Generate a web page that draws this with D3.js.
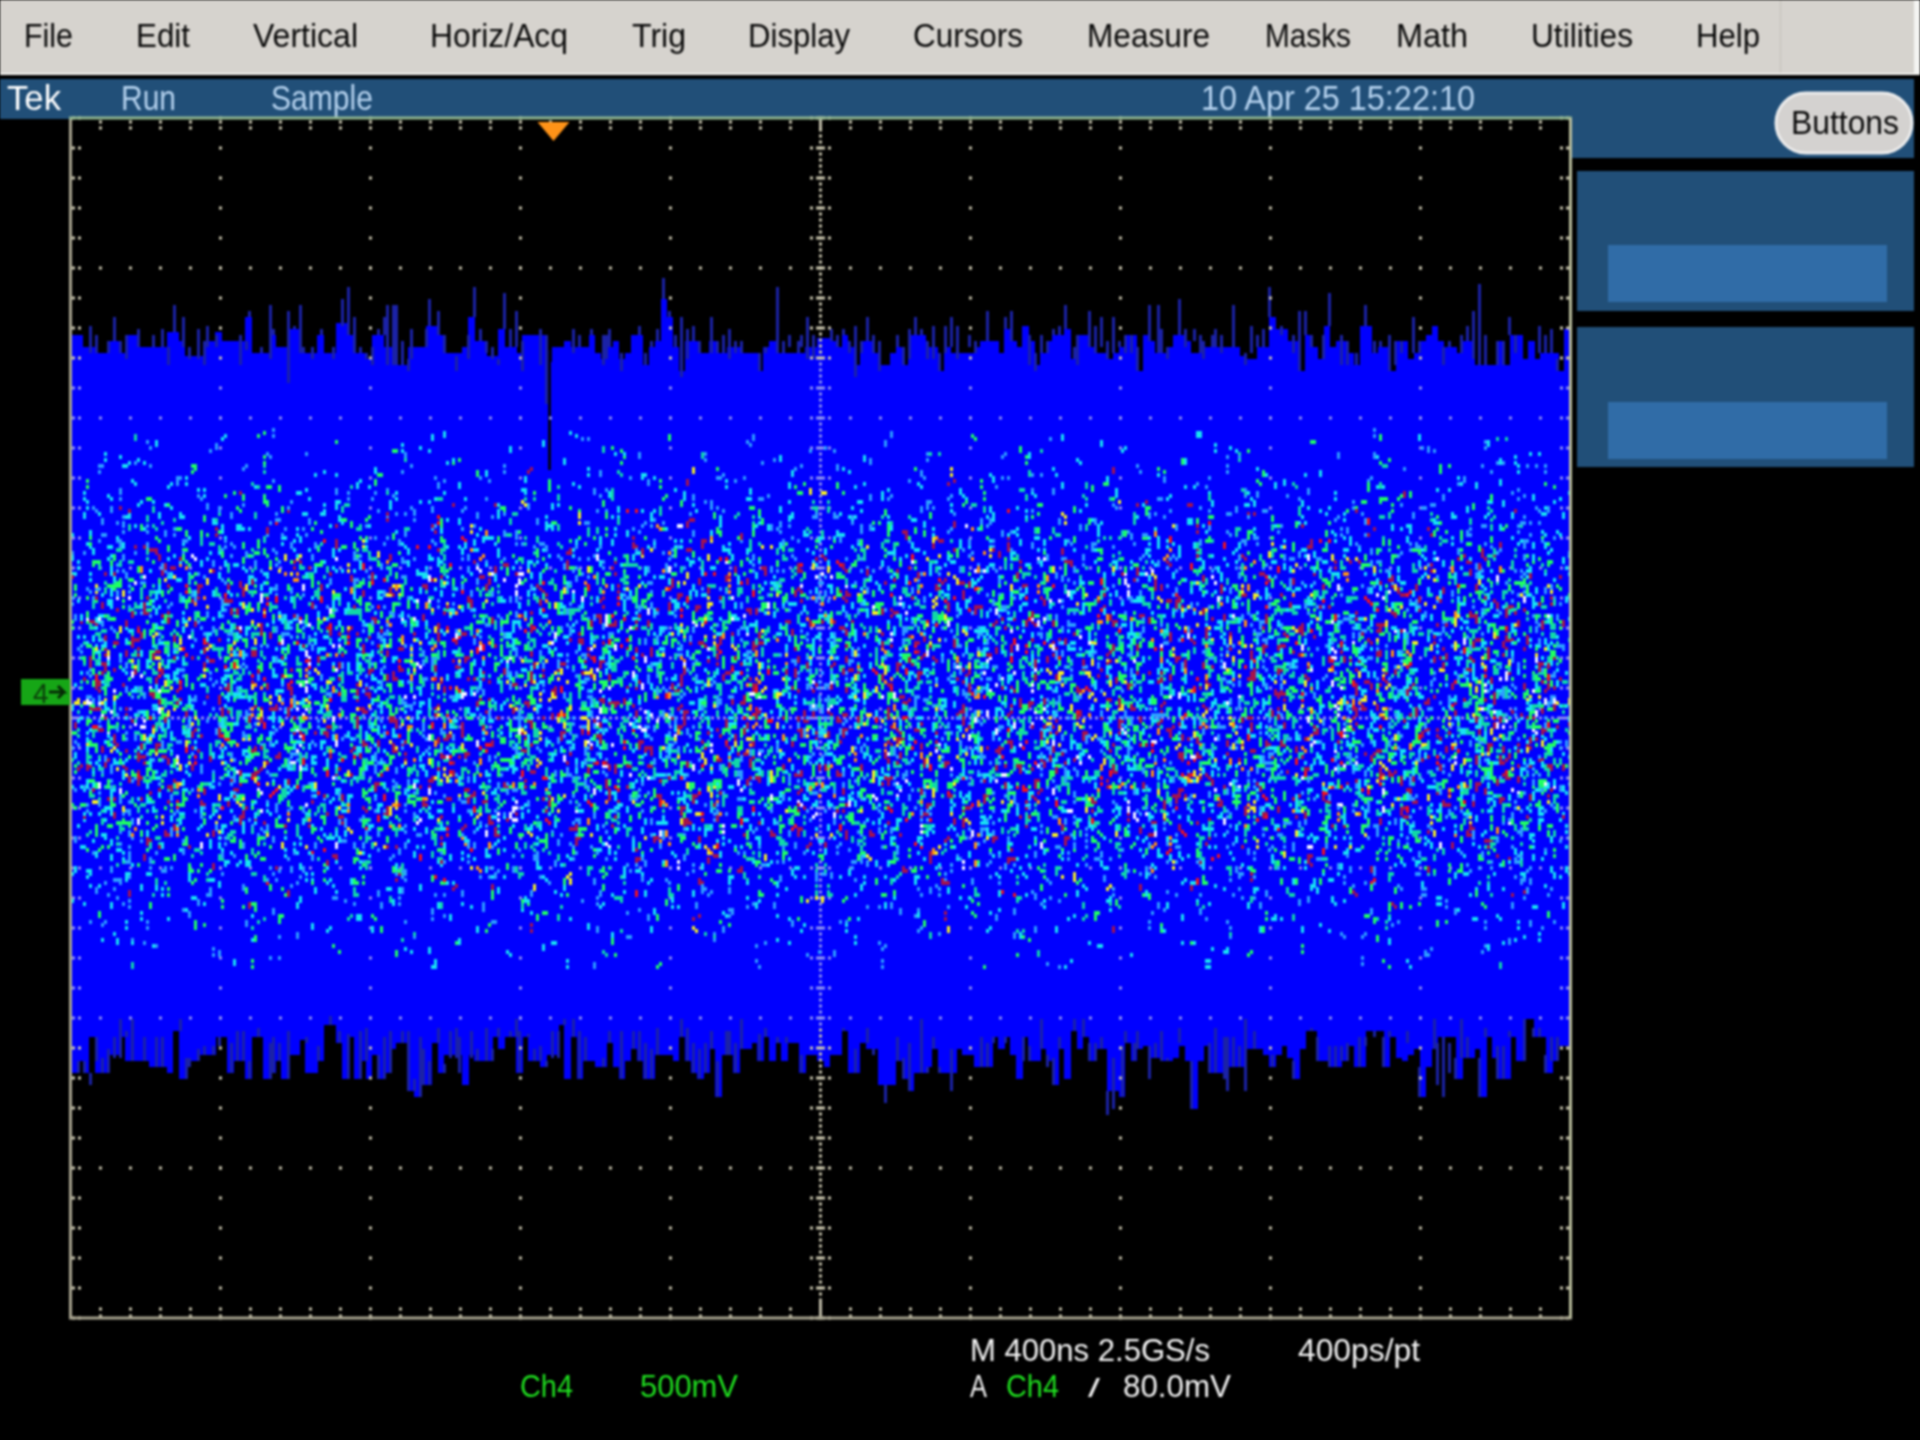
<!DOCTYPE html>
<html>
<head>
<meta charset="utf-8">
<title>Tek Ch4</title>
<script src="https://cdn.jsdelivr.net/npm/d3@7"></script>
<style>
  html, body { margin: 0; padding: 0; background: #000; }
  svg { display: block; filter: blur(0.8px); }
  text { font-family: "Liberation Sans Narrow", "Liberation Sans", sans-serif; }
</style>
</head>
<body>
<svg id="scope" width="1920" height="1440"></svg>
<script>
// ================================
// Data (levels are in units of 10 mV, 0 = Ch4 ground marker)
// ================================
const menuItems = ["File", "Edit", "Vertical", "Horiz/Acq", "Trig", "Display", "Cursors", "Measure", "Masks", "Math", "Utilities", "Help"];
const menuStart = [24, 136, 253, 430, 632, 748, 913, 1087, 1265, 1396, 1531, 1696];
const menuWidth = [49, 54, 105, 138, 54, 102, 110, 123, 86, 72, 102, 64];
const triggerNs = -712;
const dropout = { col: 159, hi: 114, lo: 74 };

// bright edge of the persistence band, one value per 6 screen px
const topEdge = [
  119,119,115,115,113,113,117,117,113,119,119,115,115,115,115,115,120,120,117,112,112,112,117,117,120,117,117,117,117,125,113,113,113,119,115,115,121,121,113,113,113,119,113,113,123,123,119,113,113,111,119,119,115,115,109,109,115,115,115,122,122,119,113,113,113,115,125,117,117,112,112,121,115,115,113,119,119,119,119,110,115,115,117,
  115,115,115,119,113,111,115,117,111,113,119,119,109,115,117,131,125,115,107,117,117,113,113,117,113,113,115,115,113,113,113,107,115,117,113,113,113,113,113,115,115,118,118,117,115,119,115,109,117,117,113,109,109,113,115,109,119,119,119,115,115,107,115,113,113,113,113,115,117,117,117,113,121,117,115,122,117,109,113,117,119,119,121,
  111,119,119,115,113,113,111,113,115,119,119,107,119,117,113,113,115,119,119,117,113,113,115,115,115,115,115,115,112,111,111,115,115,125,121,121,117,117,107,119,115,111,122,115,117,117,113,109,122,122,113,115,115,107,117,117,111,113,117,119,122,117,115,115,113,117,117,109,109,109,109,117,109,119,119,111,117,111,113,113,113,107,121
];
const bottomEdge = [
  -127,-123,-127,-115,-127,-127,-121,-121,-115,-123,-123,-123,-123,-125,-125,-125,-127,-113,-129,-125,-123,-121,-121,-121,-115,-115,-127,-123,-123,-129,-115,-115,-129,-127,-123,-129,-121,-121,-116,-127,-127,-123,-111,-111,-117,-129,-115,-129,-123,-129,-121,-129,-127,-119,-117,-117,-133,-135,-131,-131,-117,-127,-121,-121,-121,-131,-121,-123,-123,-123,-115,-119,-115,-115,-127,-115,-123,-123,-125,-121,-121,-111,-129,
  -115,-129,-123,-123,-125,-125,-117,-125,-129,-123,-119,-123,-129,-129,-121,-121,-121,-123,-115,-123,-127,-129,-127,-119,-135,-121,-121,-127,-119,-119,-117,-123,-115,-123,-117,-123,-117,-117,-127,-121,-121,-123,-125,-121,-121,-113,-127,-127,-117,-119,-119,-131,-131,-131,-123,-129,-133,-127,-127,-125,-119,-127,-127,-127,-119,-121,-121,-125,-125,-125,-115,-119,-115,-121,-129,-115,-123,-123,-119,-123,-131,-119,-129,
  -113,-119,-115,-123,-119,-119,-133,-133,-135,-117,-123,-119,-118,-122,-122,-123,-123,-122,-118,-123,-139,-123,-118,-127,-127,-127,-125,-125,-125,-119,-119,-119,-121,-125,-121,-118,-122,-129,-119,-113,-113,-123,-123,-125,-125,-123,-118,-125,-125,-113,-113,-113,-125,-115,-122,-123,-121,-119,-135,-125,-119,-115,-115,-115,-129,-122,-122,-119,-135,-115,-122,-129,-129,-115,-123,-109,-109,-115,-115,-127,-123,-118,-118
];

// dark single-sample spikes: [screen column of 500, high level, low level]
const topSpikes = [
  [6,122,113],[8,119,113],[12,117,113],[14,125,117],[16,117,113],[18,119,111],[22,121,115],[27,119,115],[30,121,115],[32,115,109],[34,129,120],[37,125,115],[39,115,111],[42,121,111],[44,117,109],[45,122,115],[48,119,115],[56,119,109],[58,117,114],[59,127,125],[63,115,113],[66,129,111],[67,121,119],[72,127,103],[74,122,121],[76,129,113],[77,115,113],[80,115,111],[83,121,119],[87,115,111],[90,131,122],[92,135,119],[94,125,113],[96,115,113],[98,113,111],[100,115,109],[102,121,119],[104,125,119],[105,129,109],[107,129,109],[108,129,109],[110,117,109],[112,111,107],[113,121,111],[118,121,115],[119,131,122],[122,127,119],[124,119,113],[128,112,107],[132,119,111],[134,135,125],[136,121,117],[138,117,113],[140,115,111],[142,111,109],[144,133,121],[146,121,115],[148,127,115],[150,117,107],[156,121,109],[158,119,96],
  [167,121,113],[169,119,115],[173,121,119],[177,119,109],[178,119,111],[179,121,115],[183,113,107],[189,122,119],[191,113,109],[193,117,115],[195,121,117],[197,138,131],[199,127,125],[201,119,115],[203,125,105],[205,121,111],[207,122,117],[209,117,113],[213,125,113],[215,117,113],[217,119,113],[219,121,111],[221,117,113],[223,117,113],[229,113,107],[231,115,113],[235,135,113],[237,117,113],[239,119,115],[242,117,113],[243,119,115],[245,125,111],[247,119,111],[253,121,117],[255,119,115],[257,121,119],[259,117,113],[261,122,105],[263,117,113],[265,125,117],[267,119,113],[269,117,107],[275,119,115],[277,115,109],[279,121,111],[281,125,119],[283,121,119],[285,117,111],[287,122,111],[289,113,107],[291,122,113],[293,125,115],[295,122,111],[299,119,115],[301,117,113],[305,127,117],[311,125,121],[313,127,117],[319,119,109],[321,113,107],[323,119,113],[325,117,113],[327,121,119],[329,122,119],[331,129,121],
  [334,115,111],[335,119,109],[339,127,115],[341,122,113],[343,125,115],[345,117,111],[347,125,113],[349,117,115],[351,119,113],[353,119,113],[355,115,107],[359,129,117],[362,129,113],[363,121,113],[365,115,111],[369,131,119],[371,121,115],[374,121,117],[376,119,113],[377,117,111],[380,119,115],[381,121,115],[383,119,113],[387,129,115],[391,113,109],[393,122,113],[395,119,115],[397,121,115],[399,135,125],[403,122,119],[407,119,113],[409,127,107],[411,127,119],[413,119,115],[417,119,111],[419,133,122],[423,119,109],[425,117,109],[428,113,109],[431,129,122],[434,117,113],[436,117,115],[439,119,107],[441,117,109],[443,117,113],[447,125,113],[449,117,113],[457,115,109],[459,117,115],[463,119,113],[465,122,117],[467,127,111],[469,136,109],[471,119,109],[475,117,109],[477,117,109],[479,125,119],[481,119,113],[489,122,113],[491,119,113],[493,121,113],[495,111,107]
];
const bottomSpikes = [
  [2,-123,-127],[4,-123,-127],[6,-127,-131],[8,-115,-123],[10,-122,-127],[12,-119,-127],[14,-115,-122],[16,-109,-122],[18,-113,-115],[20,-109,-123],[24,-115,-123],[28,-115,-125],[30,-115,-125],[36,-109,-113],[38,-122,-129],[39,-122,-125],[42,-119,-123],[44,-118,-121],[47,-118,-121],[49,-115,-118],[53,-117,-127],[55,-113,-123],[57,-113,-123],[59,-123,-129],[62,-112,-115],[66,-117,-129],[67,-115,-127],[69,-117,-123],[72,-113,-129],[78,-115,-117],[82,-118,-123],[86,-108,-111],[89,-113,-117],[92,-114,-129],[96,-113,-129],[98,-112,-123],[102,-121,-129],[104,-115,-129],[106,-113,-127],[110,-113,-117],[112,-113,-133],[114,-129,-133],[116,-115,-135],[117,-119,-131],[119,-123,-131],[122,-112,-117],[124,-124,-127],[126,-113,-122],[128,-112,-122],[129,-115,-127],[133,-113,-122],[135,-119,-123],[138,-112,-123],[140,-119,-123],[142,-112,-115],[146,-113,-115],[148,-109,-115],[149,-113,-127],[152,-114,-115],[154,-119,-123],[156,-118,-123],[158,-123,-125],[160,-113,-122],[162,-113,-122],[164,-109,-111],
  [167,-109,-115],[169,-113,-129],[171,-115,-123],[177,-122,-125],[179,-113,-117],[183,-113,-129],[187,-113,-119],[189,-113,-123],[191,-117,-129],[193,-119,-129],[195,-112,-121],[203,-109,-115],[205,-112,-123],[207,-117,-127],[209,-119,-129],[211,-117,-127],[213,-113,-119],[215,-123,-135],[218,-113,-121],[219,-113,-121],[221,-117,-127],[223,-109,-119],[229,-114,-123],[231,-112,-115],[235,-115,-117],[238,-115,-117],[243,-121,-127],[257,-112,-113],[261,-119,-127],[265,-112,-117],[267,-119,-121],[271,-131,-137],[275,-115,-123],[277,-122,-129],[279,-117,-133],[283,-109,-127],[285,-125,-127],[287,-115,-119],[289,-125,-127],[293,-119,-133],[303,-115,-125],[305,-117,-125],[307,-115,-117],[311,-115,-117],[317,-115,-123],[319,-118,-123],[323,-109,-119],[325,-121,-125],[327,-122,-131],[329,-115,-119],
  [334,-109,-113],[337,-109,-115],[339,-117,-123],[341,-117,-123],[343,-115,-119],[345,-133,-141],[347,-122,-139],[350,-118,-135],[351,-113,-117],[354,-117,-123],[355,-113,-119],[359,-118,-129],[361,-117,-122],[363,-113,-123],[365,-122,-123],[369,-112,-117],[373,-123,-139],[379,-117,-127],[381,-112,-127],[384,-115,-129],[385,-115,-133],[387,-115,-125],[389,-118,-125],[391,-109,-133],[394,-113,-119],[400,-121,-125],[407,-123,-129],[413,-112,-113],[415,-115,-123],[419,-118,-125],[421,-118,-125],[423,-118,-123],[425,-117,-123],[429,-115,-125],[431,-115,-118],[434,-113,-115],[437,-115,-125],[439,-113,-115],[445,-113,-117],[449,-125,-135],[454,-109,-119],[455,-117,-131],[457,-115,-135],[459,-117,-127],[461,-122,-129],[463,-109,-122],[465,-115,-122],[469,-122,-135],[471,-112,-115],[475,-118,-129],[477,-118,-129],[479,-113,-115],[484,-109,-123],[487,-112,-115],[489,-112,-115],[491,-121,-127],[493,-115,-123],[495,-115,-123]
];

// Persistence speckle. NOT read dot by dot: a hand-typed texture with the density and colour
// mix seen per row in the picture, drawn in mirrored and shifted passes to fill the band.
// c cyan, b light blue, g green, t teal, m maroon, r red, o orange, y yellow, w white, k black; capital = two cells long
const speckleRows = [
  "..........c.......................b.........................g..............c..........b............",
  ".....b...............g.........c.............b........................c...........g...........c.....",
  "...c.........b...........c..........g.....b.........c.........b..............t.........c.......b....",
  ".b......g.......c.....b.......m.......c.........b.......g........c.....b..........c........g.....b..",
  "....c..b....t......c.......b.....c.....g...b........c.....m...b......c.....b...g.......c....b.......",
  "..c.....b.g....c.....b..c.....t...b.....c.....b.g.....c...b.....c..t....b.....c...b.....g..c....b..c",
  ".b..c.g....b..m..c....b.....G...c..b.r...c.b.....t..c....b.g...c.....b.c..m....b..c..g....b...c..b..",
  "c..b...C.t...b..c..g.b...c..b....y..c.b...g..c...B..c.t...b..c..g...b..c...r.b...c.g..b...C...t.b.c.",
  "..b.c.b..g.c...b.m.c..T.b..c.g..b...c.b.w..g.c.b...C.b..g...c.b.t..c..b.o..c.b..g.c...b.c.m..b.g..c.",
  ".c.B.g.c..b.t.c.b..g..c.b.r.c..B.g..c.b..t.c..y.b.g.c..b.M.c.g..b.c.t.b..c.G..b.c..r.b.g.c.t..b.c.g.",
  "b.c..t.b.c.G.b.c.w.b.g..c.b.c.t.b..g.C.b.m.c.g.b.c..T.b.c.g.o.b.c.b.g..c.b.t.c.y.B.g.c..b.c.G.m.b.c.",
  ".G.b.c.g.m.c.b.T.c.b.g.c.r.b.c.g.b.c.t.B.c.w.g.b.c.M.b.g.c.t.b.c.g.b.C.t.b.g.c.b.y.c.g.b.t.c.B.o.g.c",
  "c.t.b.C.g.b.c.y.g.B.c.t.m.c.b.g.C.b.t.c.g.b.r.c.t.b.G.c.b.m.c.g.t.b.c.W.b.g.c.t.b.m.C.g.b.c.t.g.b.c.",
  ".bc.gt.bC.m.gc.bt.cg.Yb.ct.gb.cm.tG.bc.rg.cb.tc.Gb.mc.gt.bc.og.Ct.bg.cw.tb.gc.Mb.tc.gb.cy.Tb.gc.bt.g",
  "cg.bTc.gm.bc.Gt.cb.gr.cT.bg.cb.tG.cm.bg.Ct.bw.gc.tb.cG.bm.tc.gB.ct.yg.bc.Tm.gb.cG.tb.cr.gC.bt.gc.mb.",
  "bCg.tbm.Gcb.tgc.ybT.cgb.mCt.bgo.cTb.gcw.bGt.cmg.bCt.gyb.cTg.mbc.Gtb.rcg.Tbc.mGb.tcg.bCy.gtb.cMg.tbc",
  "gtbCmg.cbTg.ycbG.tmcB.gtcr.bGc.tgbM.cgTb.wcgB.tmcG.btyc.TgbC.mtgb.cGot.bCgm.cTbg.ycGb.tmCg.bctG.mbc",
  "cTbgmCtgb.cGymbT.cgtB.mcGr.tbCg.wmTc.gbGt.ycbMg.tCbg.cTmo.bGct.gBmc.ytCg.bmTc.gbGr.ctBm.gyCt.bgMc.t",
  "bGmctgBycT.gmbCt.ogcM.btGc.wmgT.cbyG.tmCb.grcT.bmGc.ytBg.mcTb.gwCm.tbGc.rgTb.mycG.tbCg.mocT.bgGm.cy",
  "tcMgbyTcm.GbtCgr.mbTc.GwgbM.tcCy.gmbT.cGob.tMgc.BymT.gcGm.btCw.gMcb.TygG.cmBt.rgCb.mTcg.yGbm.tCgb.c",
  "mbGctrCbg.TmycGb.wtMg.cBTo.mgGc.tbYm.CgtB.cMgy.TbcG.mrtC.gbMw.cTgB.ymGc.tgCb.oMcT.gbGy.mtCb.gcTm.gr",
  "cgTmbGytc.MbgCrw.tGmc.bTyg.BcMt.oGbg.mCyt.bTcg.GmwB.tcMg.yCbT.mgGc.rbTy.mCgt.bGcm.oTgb.yCmt.gGbc.wM",
  "yBcgtMgmb.CtGyoc.bTmg.wCtb.GcgM.yTbm.cGrt.gBmw.CcTb.ygGm.tCbo.gMcT.byGt.mwCg.bTcm.rGyb.tCgm.cTGb.yw",
  "tmGbcCyrg.TbmMcw.tGyb.gCmo.cTbt.MyGg.cwBm.tTcr.gGbm.CyoT.cgMb.tGwc.mCyg.bTrm.cGtb.yCgM.oTcb.mGwt.Cg",
  "cbTgwMmcy.GtbCgo.mTcb.yGrt.CmbM.gTyc.wBGm.tCgo.cMbT.yGmr.ctCb.gTwm.yGcB.tmCo.gMcb.TyGm.rtCg.bcTw.mG",
  "gMcbTymCt.rgGbmw.cCTg.tbMy.ocGm.BtrC.gbTw.mGcy.tMCb.ogTm.cGyb.rtCg.MbTw.cGmt.yCbg.oTmc.GbrM.tCgy.wT",
  "bGymctTgm.oCbcGw.tmMg.ybTc.rGBm.gCwt.cMyb.TmGo.cgCt.bTmy.wGcg.MrtB.cCmT.gyGo.bMtc.wCmg.TbGy.rcMt.gC",
  "tcCgmbMyr.TcGgwb.mTtC.oyMc.bGgT.wmCr.tcBg.yMTm.oGcb.CtwT.gMyc.rGmb.CtTg.oMwc.yGbm.tCrg.TcBm.wGyt.Mc",
  "mTbyGctgm.CwMbTc.rgGm.tCyb.oTcM.gBGw.mtCy.rbTg.cMmo.GtCb.ygTc.wMmG.btrC.gTym.coGb.MtwC.gmTb.ycGr.tM",
  "cGtmbCgyT.mMrcbG.wtTg.Cmyo.cMbG.tTgw.mCbr.yGcM.tTog.bCmw.GycT.trMb.gCmo.GcyT.wbMt.gCrm.yGbc.oTtM.gw",
  "bTcgMmtC.ybGwrT.mcCg.tGob.MyTc.mGgw.CtbM.ryTc.gGmo.CbwT.tyMc.gGrm.bCoT.tgMy.wcGb.mCrt.TgyM.oGbc.wCm",
  "gyCbTtmG.crMwbg.TyCm.oGtc.bMgw.TyCr.mGbt.cMoT.gywC.mGbr.tTcM.gyCo.wGmb.tTrc.MgyC.oGmw.bTtc.MrgC.yGb",
  "m.cGt.bTgy.Cmc.oGb.tMg.wTc.yCm.rGb.tTg.cMy.oCm.bGw.tTc.gMr.yCb.mGo.tTc.wMg.yCb.rGm.tTo.cMg.bCy.wGm",
  ".tCb.gMc.yT.bGm.ct.Cgo.bT.mc.Gy.tM.bg.Cw.cT.mb.Gr.yt.Mc.gC.bo.Tm.yG.ct.Mw.gC.bT.rc.Gm.yt.Cb.oM.gT.",
  "c.g.bT.m.cG.t.y.bC.g.m.cT.o.b.tG.c.w.gM.b.y.cC.t.m.bT.g.r.cG.y.t.bM.c.g.oC.m.b.tT.c.y.gG.b.w.cM.t.",
  ".b.c..G.t.b.g..c.M.y.b..T.c.g.t..b.C.m..c.o.gT.b.c..G.t..y.b.cM..g.t.b..C.c.r..b.G.t.c..g.T.b..m.c.",
  "c..t.b..g.C..m.c...b.G..c.y.b...t.T..c.g.b..M.c...t.b.G..c..o.b.g...C.t..b.m..c.T..g.b..c...G.t.b..",
  "..b..c..g...T..b.c...m..G..b...c.y..t..b...C..g.c...b..t..M..c...b.g..T...c..b...G..c.r..b...t..C..",
  ".c...t...b...g..c....C..b...m...c..g...T..b....c..t...G..b...c....g..y...b..c....T...b..g....c..m..",
  "...b....c...G.....b..t....c...g.....T...c....b...y....c.....g...b....C.....t...b....c...m.....g....",
  ".g.....c.....b....t......c.....G......b....c.......g...b.....c.....t.......b....c.....G......c.....",
  ".....b......t.......c......g.......b.....y......c.......b......t........c......g........b.......c..",
  "..c.........g.........b.........c.........t..........b.........c..........g.........b..........c....",
  ".........b............c............t.............b.............g............c.............b.........",
  "....t...................c....................b....................c....................g.............."
];
const speckleColors = { c: "#17e3f2", b: "#2c9dff", g: "#1fff62", t: "#10d8a8", m: "#a5144c", r: "#f5121a", o: "#ff9312", y: "#f5ef22", w: "#f4f6ff", k: "#04061c" };
// typed shifts that break up the table's lattice
const shiftCols = [0, 2, 4, 1, 3, 4, 0, 3, 1, 2, 4, 1, 0, 3, 2, 1, 4, 2, 0, 3, 1, 4, 3, 0, 2];
const shiftLevels = [0, 3, 1, 2, 0, 3, 2, 1, 3, 0, 1, 2, 3, 1, 0, 2, 1, 3, 0, 2, 3];

// ================================
// Scales
// ================================
const divX = d3.scaleLinear().domain([0, 10]).range([70.5, 1570.5]);
const divY = d3.scaleLinear().domain([0, 8]).range([118, 1318]);
const timeX = d3.scaleLinear().domain([-2000, 2000]).range([70.5, 1570.5]);
const levelY = d3.scaleLinear().domain([191.33, -208.67]).range([118, 1318]);
const colX = d3.scaleLinear().domain([0, 500]).range([70.5, 1570.5]);
const edgeBand = d3.scaleBand().domain(d3.range(topEdge.length)).range([70.5, 1570.5]);
const bottomBand = d3.scaleBand().domain(d3.range(bottomEdge.length)).range([70.5, 1570.5]);

const svg = d3.select("#scope");
const BLUE = "#0000ff", DARK = "#1b22a6", BAR = "#214f78", INNER = "#306ca7", GREY = "#d6d3ce", DOT = "#c9c5ae", DOT_ON_BLUE = "#8f93f0";

// ================================
// Chrome: menu bar, status bar, side panels
// ================================
function box(x, y, w, h, fill) {
  return svg.append("rect").attr("x", x).attr("y", y).attr("width", w).attr("height", h).attr("fill", fill);
}
function label(txt, x, y, size, fill, width) {
  const t = svg.append("text").attr("x", x).attr("y", y).attr("font-size", size).attr("fill", fill).text(txt);
  if (width) t.attr("textLength", width).attr("lengthAdjust", "spacingAndGlyphs");
  return t;
}

box(-4, -4, 1918, 78, GREY);
box(1914, -4, 10, 78, "#f4f4f2");
box(-4, 73, 1924, 2, "#f2f1ee");
box(1780, 0, 1, 73, "#c3c0ba");
box(-4, 79, 75, 40, BAR);
box(71, 79, 1500, 40, BAR);
box(1570, 79, 344, 79, BAR);
[[171, 140, 245], [327, 140, 402]].forEach(([y, h, innerY]) => {
  box(1577, y, 337, h, BAR);
  box(1608, innerY, 279, 57, INNER);
});

svg.selectAll("text.menu").data(menuItems).join("text")
  .attr("class", "menu")
  .attr("x", (_, i) => menuStart[i])
  .attr("y", 47)
  .attr("font-size", 33)
  .attr("fill", "#0a0a0a")
  .attr("textLength", (_, i) => menuWidth[i])
  .attr("lengthAdjust", "spacingAndGlyphs")
  .text((d) => d);

label("Tek", 7, 110, 35, "#ffffff", 54);
label("Run", 121, 110, 35, "#b5d2ee", 55);
label("Sample", 271, 110, 35, "#b5d2ee", 102);
label("10 Apr 25 15:22:10", 1201, 110, 35, "#b5d2ee", 274);

svg.append("rect").attr("x", 1776).attr("y", 93).attr("width", 136).attr("height", 60).attr("rx", 30)
  .attr("fill", "#d4d2d0").attr("stroke", "#ececec").attr("stroke-width", 3);
label("Buttons", 1791, 134, 33, "#0a0a0a", 108);

// ================================
// Waveform: band, spikes, dropout
// ================================
const wave = svg.append("g").attr("shape-rendering", "crispEdges");

wave.selectAll("rect.top").data(topEdge).join("rect")
  .attr("class", "top")
  .attr("x", (_, i) => edgeBand(i))
  .attr("width", edgeBand.bandwidth() + 0.5)
  .attr("y", (d) => levelY(d))
  .attr("height", (d) => levelY(0) - levelY(d) + 1)
  .attr("fill", BLUE);

wave.selectAll("rect.bottom").data(bottomEdge).join("rect")
  .attr("class", "bottom")
  .attr("x", (_, i) => bottomBand(i))
  .attr("width", bottomBand.bandwidth() + 0.5)
  .attr("y", levelY(0))
  .attr("height", (d) => levelY(d) - levelY(0))
  .attr("fill", BLUE);

wave.selectAll("rect.spike").data(topSpikes.concat(bottomSpikes)).join("rect")
  .attr("class", "spike")
  .attr("x", (d) => colX(d[0]))
  .attr("width", colX(1) - colX(0))
  .attr("y", (d) => levelY(d[1]))
  .attr("height", (d) => levelY(d[2]) - levelY(d[1]))
  .attr("fill", DARK);

wave.append("rect")
  .attr("x", colX(dropout.col))
  .attr("width", colX(1) - colX(0))
  .attr("y", levelY(dropout.hi))
  .attr("height", levelY(dropout.lo) - levelY(dropout.hi))
  .attr("fill", "#02021a");

// ================================
// Graticule (under the speckle, over the band)
// ================================
const dots = [];
const dot = (x, y, w = 3, h = 3) => dots.push({ x, y, w, h });
d3.range(0, 10.001, 0.2).forEach((dx) => {
  d3.range(1, 8).forEach((j) => { if (j !== 4) dot(divX(dx), divY(j)); });
  dot(divX(dx), divY(0) + 4); dot(divX(dx), divY(0) + 10);
  dot(divX(dx), divY(8) - 9); dot(divX(dx), divY(8) - 2);
  dot(divX(dx), divY(4) - 9); dot(divX(dx), divY(4) + 9);
});
d3.range(0, 8.001, 0.2).forEach((dy) => {
  d3.range(1, 10).forEach((i) => { if (i !== 5) dot(divX(i), divY(dy)); });
  dot(divX(0) + 3, divY(dy)); dot(divX(0) + 9, divY(dy));
  dot(divX(10) - 3, divY(dy)); dot(divX(10) - 9, divY(dy));
  dot(divX(5) - 9, divY(dy)); dot(divX(5) + 9, divY(dy));
  dot(divX(5) - 3, divY(dy), 9, 3);
});
d3.range(0, 10.001, 0.04).forEach((dx) => dot(divX(dx), divY(4)));
d3.range(0, 8.001, 0.04).forEach((dy) => dot(divX(5), divY(dy)));

svg.append("g").selectAll("rect").data(dots).join("rect")
  .attr("x", (d) => d.x - 1.5)
  .attr("y", (d) => d.y - 1.5)
  .attr("width", (d) => d.w)
  .attr("height", (d) => d.h)
  .attr("fill", (d) => (d.y > levelY(110) && d.y < levelY(-112) ? DOT_ON_BLUE : DOT));

// ================================
// Speckle: eight readings of the same table
// ================================
const nCols = 100, nRows = speckleRows.length;
const passes = [
  { flipX: false, flipY: false, wide: false },
  { flipX: true, flipY: false, wide: true },
  { flipX: false, flipY: true, wide: false },
  { flipX: true, flipY: true, wide: true },
  { flipX: false, flipY: false, wide: true },
  { flipX: true, flipY: true, wide: false },
  { flipX: true, flipY: false, wide: false },
  { flipX: false, flipY: true, wide: false },
];
const speckle = [];
passes.forEach((p, k) => {
  speckleRows.forEach((row, r) => {
    Array.from(row).forEach((ch, c) => {
      if (ch === ".") return;
      speckle.push({
        col: (p.flipX ? nCols - 1 - c : c) * 5 + shiftCols[(c * c + r * 3 + k * 5) % shiftCols.length],
        level: 88 - (p.flipY ? nRows - 1 - r : r) * 4 - shiftLevels[(c * 2 + r * r + k * 7) % shiftLevels.length],
        color: speckleColors[ch.toLowerCase()],
        long: ch !== ch.toLowerCase(),
        wide: p.wide,
      });
    });
  });
});
const cell = colX(1) - colX(0);
wave.clone(false).raise().selectAll("rect").data(speckle).join("rect")
  .attr("x", (d) => colX(d.col))
  .attr("y", (d) => levelY(d.level))
  .attr("width", (d) => (d.long && d.wide ? cell * 2 : cell) + 0.8)
  .attr("height", (d) => (d.long && !d.wide ? cell * 2 : cell) + 0.8)
  .attr("fill", (d) => d.color);

box(divX(5) - 1.5, divY(8) - 19, 3, 19, "#bdb9a6");
box(divX(5) - 1.5, divY(0), 3, 10, "#bdb9a6");

box(divX(0) - 1.5, divY(0), 3, 1200, "#a8a490");
box(divX(0) - 1.5, divY(8) - 1.5, 1503, 3, "#a8a490");
box(divX(0) - 1.5, divY(0) - 1.5, 1503, 3, "#8fb590");
box(divX(10) - 1.5, divY(0), 3, 1200, "#b9bd9c");

// ================================
// Markers and readouts
// ================================
const tx = timeX(triggerNs);
svg.append("path").attr("d", d3.line()([[tx - 16, 122], [tx + 16, 122], [tx, 141]]) + "Z").attr("fill", "#ff9318");

box(21, levelY(0) - 13, 49, 26, "#16a616");
label("4", 33, levelY(0) + 11, 28, "#0b400b");
svg.append("path")
  .attr("d", d3.line()([[49, levelY(0)], [64, levelY(0)], [58, levelY(0) - 6], [64, levelY(0)], [58, levelY(0) + 6]]))
  .attr("fill", "none").attr("stroke", "#062a06").attr("stroke-width", 3);

label("Ch4", 520, 1397, 31, "#1fe01f", 53);
label("500mV", 640, 1397, 31, "#1fe01f", 98);
label("M 400ns 2.5GS/s", 970, 1361, 31, "#f4f4f4", 240);
label("400ps/pt", 1298, 1361, 31, "#f4f4f4", 122);
label("A", 970, 1397, 31, "#f4f4f4", 17);
label("Ch4", 1006, 1397, 31, "#1fe01f", 53);
label("/", 1088, 1397, 26, "#f4f4f4", 12);
label("80.0mV", 1123, 1397, 31, "#f4f4f4", 108);
</script>
</body>
</html>
